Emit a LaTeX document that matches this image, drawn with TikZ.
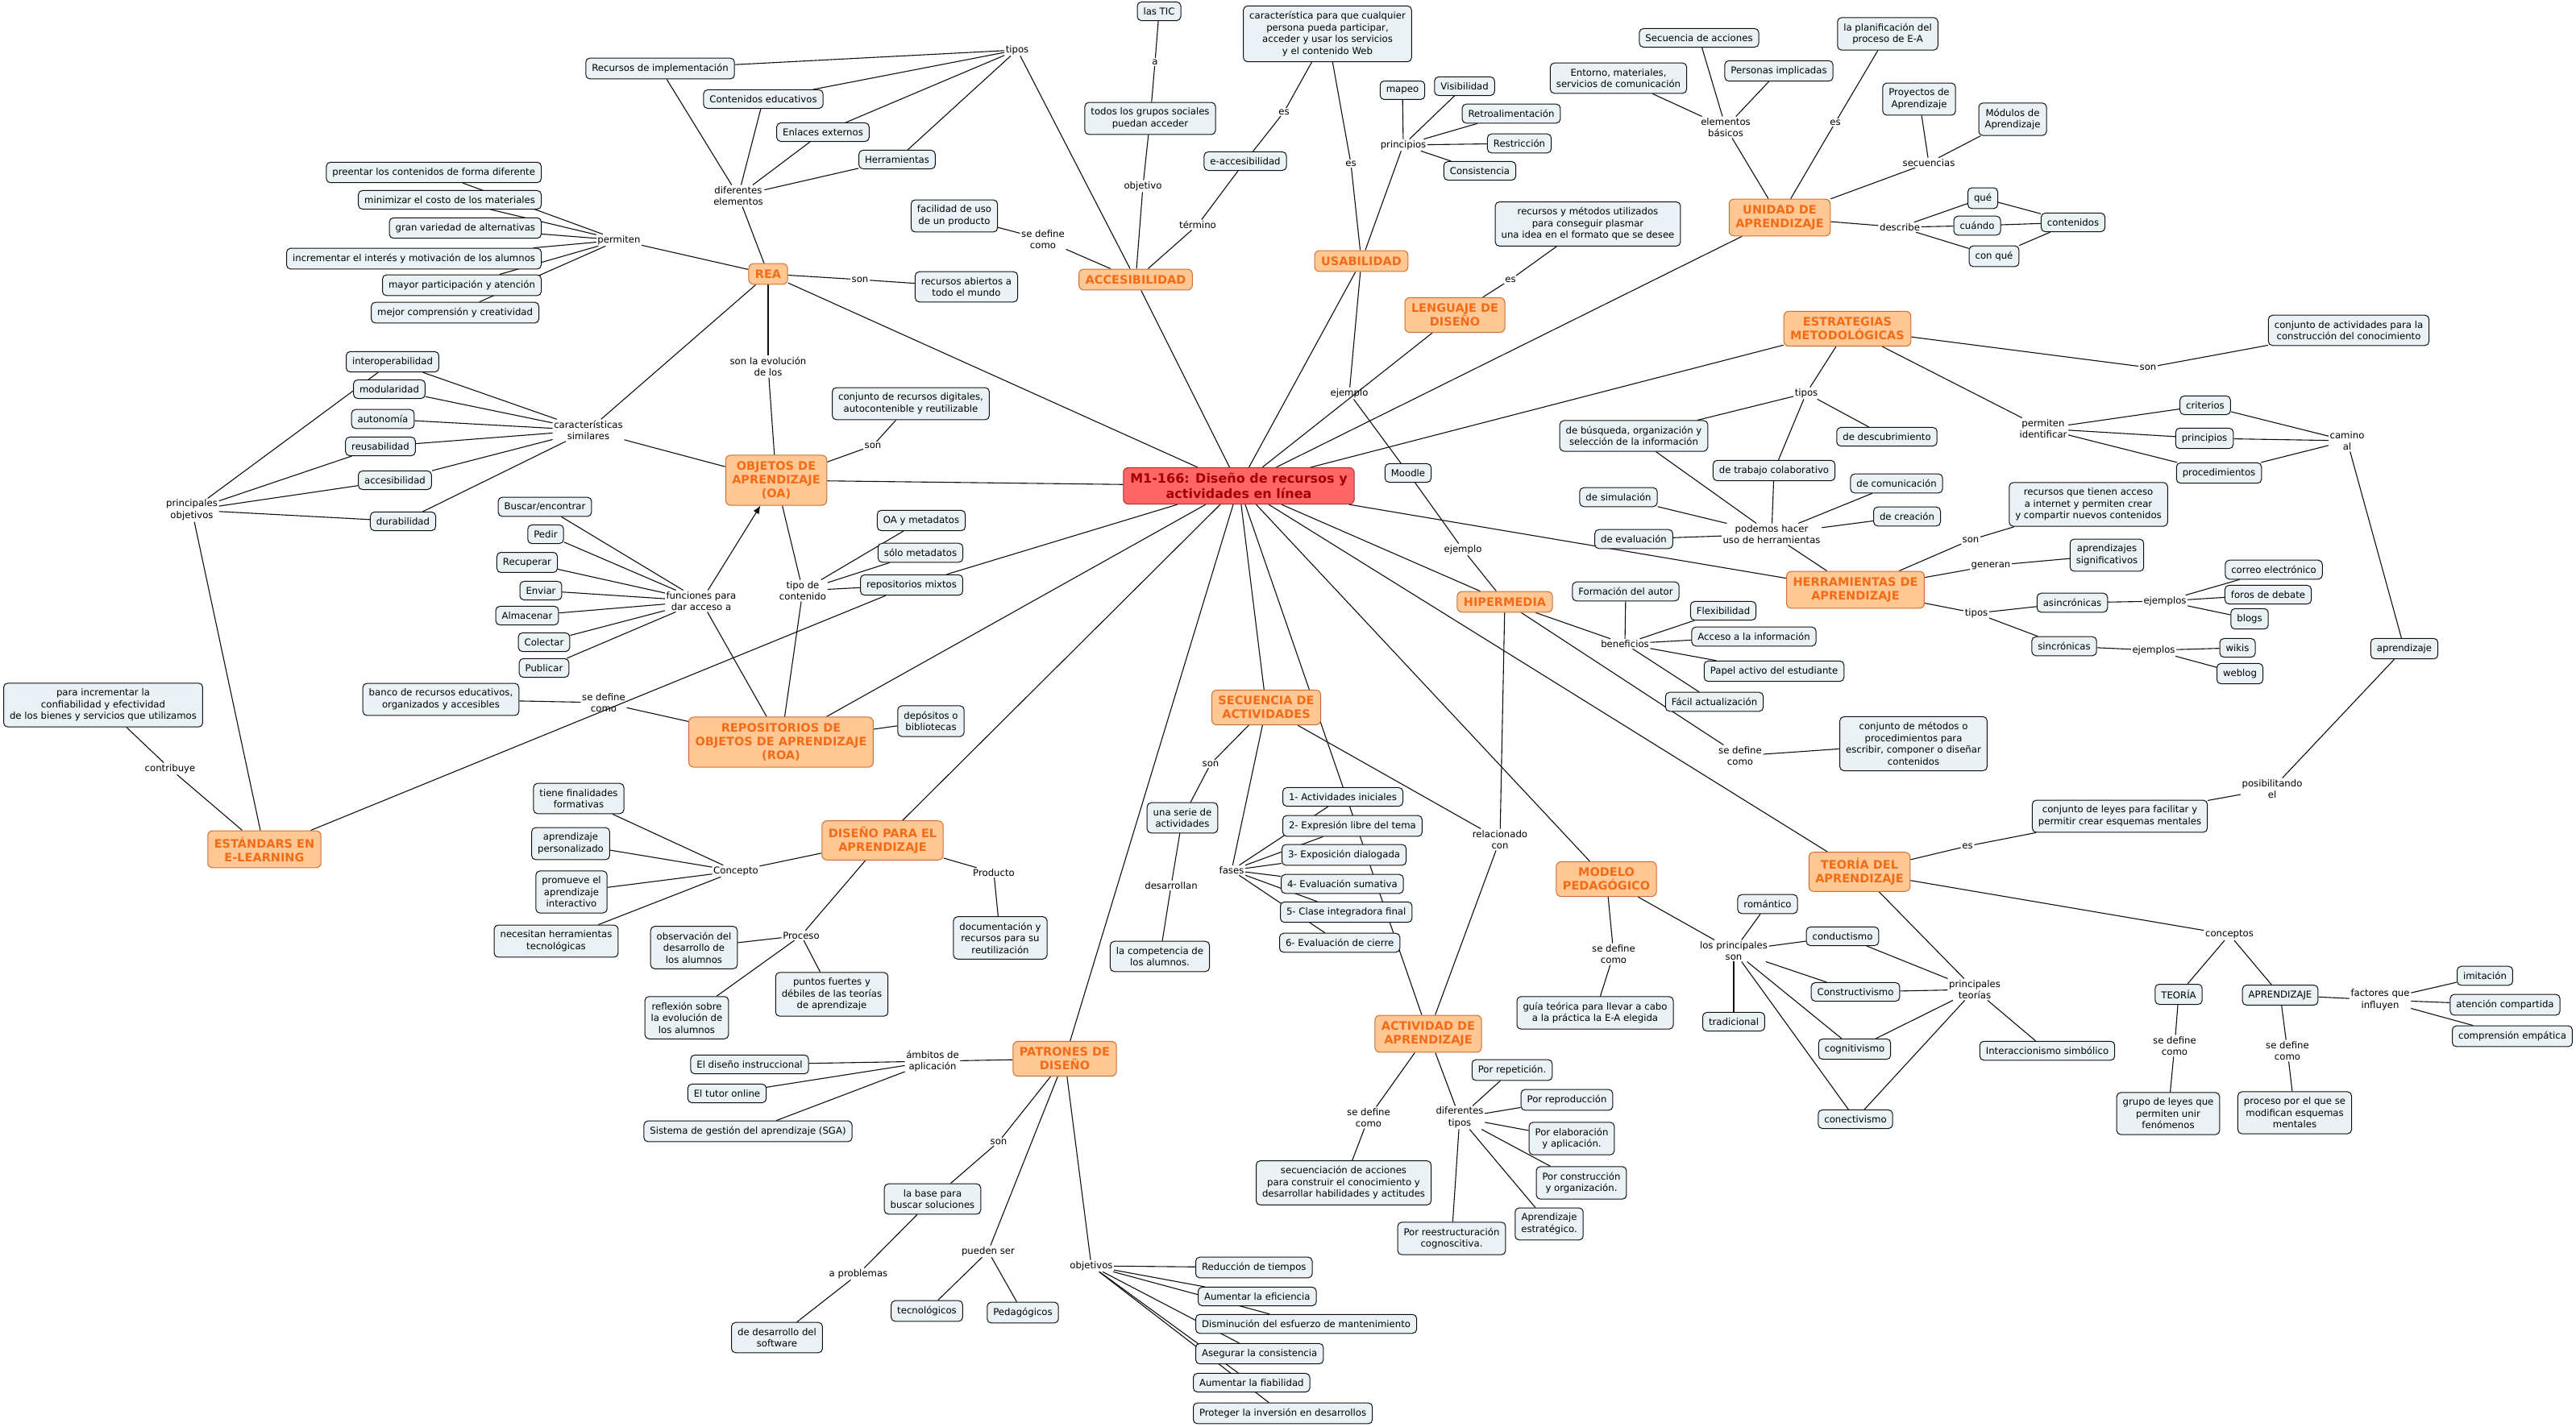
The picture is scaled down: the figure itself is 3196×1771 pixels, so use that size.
\documentclass[tikz,border=0pt]{standalone}
\usepackage{fontspec}
\setmainfont{DejaVu Sans}
\usetikzlibrary{arrows.meta}
\definecolor{cfill}{RGB}{235,242,245}
\definecolor{ofill}{RGB}{255,199,148}
\definecolor{obord}{RGB}{205,110,50}
\definecolor{otext}{RGB}{242,108,24}
\definecolor{rfill}{RGB}{255,102,102}
\definecolor{rbord}{RGB}{175,45,45}
\definecolor{rtext}{RGB}{165,0,0}
\definecolor{lncol}{RGB}{15,15,15}
\newcommand\nfnt{\fontsize{11.7}{14.5}\selectfont}
\newcommand\ofnt{\fontsize{14.5}{17.2}\selectfont\bfseries}
\newcommand\tfnt{\fontsize{16}{19.5}\selectfont\bfseries}
\pgfdeclarelayer{back}
\pgfdeclarelayer{bg}
\pgfsetlayers{back,bg,main}
\tikzset{
  cb/.style={draw=lncol, fill=cfill, rounded corners=5pt, align=center, font=\nfnt, inner xsep=7.5pt, inner ysep=7pt, line width=1pt},
  oc/.style={draw=obord, fill=ofill, text=otext, rounded corners=6pt, align=center, font=\ofnt, inner xsep=8pt, inner ysep=7.5pt, line width=1pt},
  cen/.style={draw=rbord, fill=rfill, text=rtext, rounded corners=6pt, align=center, font=\tfnt, inner xsep=8.5pt, inner ysep=6.5pt, line width=1pt},
  lp/.style={align=center, font=\nfnt, inner sep=1.5pt},
  ln/.style={draw=lncol, line width=1.1pt}
}
\begin{document}
\begin{tikzpicture}[x=1pt,y=-1pt]
\begin{pgfonlayer}{back}
\fill[white] (0,0) rectangle (3196,1771);
\end{pgfonlayer}
\useasboundingbox (0,0) rectangle (3196,1771);

% central
\node[cen] (c) at (1537,603) {M1-166: Diseño de recursos y\\actividades en línea};

% main concepts
\node[oc] (rea) at (953,340) {REA};
\node[oc] (acc) at (1409,347) {ACCESIBILIDAD};
\node[oc] (usa) at (1689,324) {USABILIDAD};
\node[oc] (len) at (1805,391) {LENGUAJE DE\\DISEÑO};
\node[oc] (uni) at (2208,270) {UNIDAD DE\\APRENDIZAJE};
\node[oc] (est) at (2292,408) {ESTRATEGIAS\\METODOLÓGICAS};
\node[oc] (oa) at (963,596) {OBJETOS DE\\APRENDIZAJE\\(OA)};
\node[oc] (roa) at (969,921) {REPOSITORIOS DE\\OBJETOS DE APRENDIZAJE\\(ROA)};
\node[oc] (std) at (328,1054) {ESTÁNDARS EN\\E-LEARNING};
\node[oc] (dis) at (1095,1043) {DISEÑO PARA EL\\APRENDIZAJE};
\node[oc] (pat) at (1321,1314) {PATRONES DE\\DISEÑO};
\node[oc] (sec) at (1571,878) {SECUENCIA DE\\ACTIVIDADES};
\node[oc] (hip) at (1867,747) {HIPERMEDIA};
\node[oc] (her) at (2302,732) {HERRAMIENTAS DE\\APRENDIZAJE};
\node[oc] (mod) at (1993,1091) {MODELO\\PEDAGÓGICO};
\node[oc] (act) at (1772,1283) {ACTIVIDAD DE\\APRENDIZAJE};
\node[oc] (teo) at (2307,1082) {TEORÍA DEL\\APRENDIZAJE};

% REA / ACCESIBILIDAD cluster
\node[cb] (rimp) at (819,85) {Recursos de implementación};
\node[cb] (cedu) at (947,123) {Contenidos educativos};
\node[cb] (enl) at (1021,164) {Enlaces externos};
\node[cb] (herr) at (1113,198) {Herramientas};
\node[cb] (rab) at (1199,356) {recursos abiertos a\\todo el mundo};
\node[cb] (fac) at (1184,268) {facilidad de uso\\de un producto};
\node[cb] (tic) at (1438,14) {las TIC};
\node[cb] (tgs) at (1427,147) {todos los grupos sociales\\puedan acceder};
\node[cb] (eacc) at (1545,200) {e-accesibilidad};
\node[cb] (carw) at (1647,42) {característica para que cualquier\\persona pueda participar,\\acceder y usar los servicios\\y el contenido Web};
\node[cb] (crd) at (1130,501) {conjunto de recursos digitales,\\autocontenible y reutilizable};

\node[cb,anchor=east] (p1) at (672,214) {preentar los contenidos de forma diferente};
\node[cb,anchor=east] (p2) at (672,248) {minimizar el costo de los materiales};
\node[cb,anchor=east] (p3) at (672,283) {gran variedad de alternativas};
\node[cb,anchor=east] (p4) at (672,321) {incrementar el interés y motivación de los alumnos};
\node[cb,anchor=east] (p5) at (672,354) {mayor participación y atención};
\node[cb,anchor=east] (p6) at (669,388) {mejor comprensión y creatividad};

\node[cb] (k1) at (487,449) {interoperabilidad};
\node[cb] (k2) at (483,483) {modularidad};
\node[cb] (k3) at (475,520) {autonomía};
\node[cb] (k4) at (472,554) {reusabilidad};
\node[cb] (k5) at (490,596) {accesibilidad};
\node[cb] (k6) at (500,647) {durabilidad};

\node[cb] (f1) at (676,629) {Buscar/encontrar};
\node[cb] (f2) at (677,663) {Pedir};
\node[cb] (f3) at (654,698) {Recuperar};
\node[cb] (f4) at (671,733) {Enviar};
\node[cb] (f5) at (654,764) {Almacenar};
\node[cb] (f6) at (675,797) {Colectar};
\node[cb] (f7) at (675,829) {Publicar};

\node[cb] (oam) at (1143,646) {OA y metadatos};
\node[cb] (som) at (1142,686) {sólo metadatos};
\node[cb] (rmx) at (1131,726) {repositorios mixtos};
\node[cb] (dep) at (1155,895) {depósitos o\\bibliotecas};
\node[cb] (ban) at (547,868) {banco de recursos educativos,\\organizados y accesibles};
\node[cb] (inc) at (128,875) {para incrementar la\\confiabilidad y efectividad\\de los bienes y servicios que utilizamos};

% DISEÑO PARA EL APRENDIZAJE
\node[cb] (d1) at (718,991) {tiene finalidades\\formativas};
\node[cb] (d2) at (708,1047) {aprendizaje\\personalizado};
\node[cb] (d3) at (709,1107) {promueve el\\aprendizaje\\interactivo};
\node[cb] (d4) at (690,1168) {necesitan herramientas\\tecnológicas};
\node[cb] (doc) at (1241,1164) {documentación y\\recursos para su\\reutilización};
\node[cb] (obs) at (861,1176) {observación del\\desarrollo de\\los alumnos};
\node[cb] (ref) at (852,1263) {reflexión sobre\\la evolución de\\los alumnos};
\node[cb] (pfu) at (1032,1234) {puntos fuertes y\\débiles de las teorías\\de aprendizaje};

% PATRONES
\node[cb] (a1) at (930,1321) {El diseño instruccional};
\node[cb] (a2) at (902,1357) {El tutor online};
\node[cb] (a3) at (928,1404) {Sistema de gestión del aprendizaje (SGA)};
\node[cb] (bas) at (1157,1488) {la base para\\buscar soluciones};
\node[cb] (dsw) at (964,1660) {de desarrollo del\\software};
\node[cb] (tec) at (1150,1627) {tecnológicos};
\node[cb] (ped) at (1269,1629) {Pedagógicos};
\node[cb,anchor=west] (o1) at (1483,1573) {Reducción de tiempos};
\node[cb,anchor=west] (o2) at (1486,1609) {Aumentar la eficiencia};
\node[cb,anchor=west] (o3) at (1483,1643) {Disminución del esfuerzo de mantenimiento};
\node[cb,anchor=west] (o4) at (1483,1680) {Asegurar la consistencia};
\node[cb,anchor=west] (o5) at (1480,1716) {Aumentar la fiabilidad};
\node[cb,anchor=west] (o6) at (1480,1754) {Proteger la inversión en desarrollos};

% SECUENCIA
\node[cb] (ser) at (1467,1015) {una serie de\\actividades};
\node[cb] (com) at (1439,1187) {la competencia de\\los alumnos.};
\node[cb,anchor=west] (ph1) at (1591,989) {1- Actividades iniciales};
\node[cb,anchor=west] (ph2) at (1591,1025) {2- Expresión libre del tema};
\node[cb,anchor=west] (ph3) at (1590,1061) {3- Exposición dialogada};
\node[cb,anchor=west] (ph4) at (1589,1097) {4- Evaluación sumativa};
\node[cb,anchor=west] (ph5) at (1588,1132) {5- Clase integradora final};
\node[cb,anchor=west] (ph6) at (1587,1170) {6- Evaluación de cierre};

% HIPERMEDIA
\node[cb] (moo) at (1747,587) {Moodle};
\node[cb] (fau) at (2017,734) {Formación del autor};
\node[cb] (b1) at (2138,758) {Flexibilidad};
\node[cb] (b2) at (2176,790) {Acceso a la información};
\node[cb] (b3) at (2201,833) {Papel activo del estudiante};
\node[cb] (b4) at (2127,871) {Fácil actualización};
\node[cb] (cmp) at (2374,923) {conjunto de métodos o\\procedimientos para\\escribir, componer o diseñar\\contenidos};

% USABILIDAD
\node[cb] (u1) at (1740,112) {mapeo};
\node[cb] (u2) at (1817,107) {Visibilidad};
\node[cb] (u3) at (1875,141) {Retroalimentación};
\node[cb] (u4) at (1885,178) {Restricción};
\node[cb] (u5) at (1836,212) {Consistencia};
\node[cb] (rmu) at (1970,278) {recursos y métodos utilizados\\para conseguir plasmar\\una idea en el formato que se desee};

% UNIDAD
\node[cb] (sac) at (2108,47) {Secuencia de acciones};
\node[cb] (ent) at (2008,97) {Entorno, materiales,\\servicios de comunicación};
\node[cb] (pim) at (2207,88) {Personas implicadas};
\node[cb] (pla) at (2342,42) {la planificación del\\proceso de E-A};
\node[cb] (pro) at (2381,123) {Proyectos de\\Aprendizaje};
\node[cb] (mdl) at (2497,148) {Módulos de\\Aprendizaje};
\node[cb] (que) at (2460,246) {qué};
\node[cb] (cua) at (2453,280) {cuándo};
\node[cb] (cq) at (2474,318) {con qué};
\node[cb] (cont) at (2572,276) {contenidos};

% ESTRATEGIAS
\node[cb] (cac) at (2914,410) {conjunto de actividades para la\\construcción del conocimiento};
\node[cb] (bus) at (2027,541) {de búsqueda, organización y\\selección de la información};
\node[cb] (des) at (2341,542) {de descubrimiento};
\node[cb] (col) at (2201,584) {de trabajo colaborativo};
\node[cb] (cri) at (2736,503) {criterios};
\node[cb] (pri) at (2735,544) {principios};
\node[cb] (prc) at (2753,587) {procedimientos};
\node[cb] (apr) at (2983,805) {aprendizaje};
\node[cb] (cly) at (2630,1013) {conjunto de leyes para facilitar y\\permitir crear esquemas mentales};

% HERRAMIENTAS
\node[cb] (sim) at (2008,617) {de simulación};
\node[cb] (eva) at (2027,669) {de evaluación};
\node[cb] (hcom) at (2353,600) {de comunicación};
\node[cb] (cre) at (2366,641) {de creación};
\node[cb] (rqt) at (2591,626) {recursos que tienen acceso\\a internet y permiten crear\\y compartir nuevos contenidos};
\node[cb] (asi) at (2614,689) {aprendizajes\\significativos};
\node[cb] (asn) at (2571,748) {asincrónicas};
\node[cb] (sin) at (2561,802) {sincrónicas};
\node[cb] (e1) at (2821,707) {correo electrónico};
\node[cb] (e2) at (2814,738) {foros de debate};
\node[cb] (e3) at (2791,768) {blogs};
\node[cb] (w1) at (2776,804) {wikis};
\node[cb] (w2) at (2779,836) {weblog};

% TEORIA
\node[cb] (teor) at (2703,1234) {TEORÍA};
\node[cb] (aprz) at (2829,1235) {APRENDIZAJE};
\node[cb] (gru) at (2690,1382) {grupo de leyes que\\permiten unir\\fenómenos};
\node[cb] (pme) at (2847,1381) {proceso por el que se\\modifican esquemas\\mentales};
\node[cb] (fi1) at (3083,1211) {imitación};
\node[cb] (fi2) at (3108,1247) {atención compartida};
\node[cb] (fi3) at (3117,1286) {comprensión empática};
\node[cb] (cdt) at (2286,1162) {conductismo};
\node[cb] (rom) at (2193,1122) {romántico};
\node[cb] (cns) at (2302,1231) {Constructivismo};
\node[cb] (tra) at (2151,1268) {tradicional};
\node[cb] (cog) at (2301,1302) {cognitivismo};
\node[cb] (cnc) at (2302,1389) {conectivismo};
\node[cb] (isi) at (2540,1304) {Interaccionismo simbólico};

% MODELO / ACTIVIDAD
\node[cb] (gui) at (1979,1257) {guía teórica para llevar a cabo\\a la práctica la E-A elegida};
\node[cb] (sac2) at (1667,1468) {secuenciación de acciones\\para construir el conocimiento y\\desarrollar habilidades y actitudes};
\node[cb] (t1) at (1876,1328) {Por repetición.};
\node[cb] (t2) at (1944,1365) {Por reproducción};
\node[cb] (t3) at (1950,1413) {Por elaboración\\y aplicación.};
\node[cb] (t4) at (1962,1468) {Por construcción\\y organización.};
\node[cb] (t5) at (1922,1519) {Aprendizaje\\estratégico.};
\node[cb] (t6) at (1801,1537) {Por reestructuración\\cognoscitiva.};

% linking phrases
\node[lp] (Ltipos) at (1262,62) {tipos};
\node[lp] (Ldif) at (916,243) {diferentes\\elementos};
\node[lp] (Lson1) at (1067,347) {son};
\node[lp] (Lsdc1) at (1294,297) {se define\\como};
\node[lp] (La) at (1433,77) {a};
\node[lp] (Lobj) at (1418,231) {objetivo};
\node[lp] (Lter) at (1486,279) {término};
\node[lp] (Les1) at (1593,139) {es};
\node[lp] (Levo) at (953,455) {son la evolución\\de los};
\node[lp] (Lson2) at (1083,553) {son};
\node[lp] (Lperm) at (768,298) {permiten};
\node[lp] (Lcar) at (730,534) {características\\similares};
\node[lp] (Lpob) at (238,633) {principales\\objetivos};
\node[lp] (Lfun) at (870,746) {funciones para\\dar acceso a};
\node[lp] (Ltip) at (996,733) {tipo de\\contenido};
\node[lp] (Lsdc2) at (749,872) {se define\\como};
\node[lp] (Lcon) at (211,954) {contribuye};
\node[lp] (Lconc) at (913,1081) {Concepto};
\node[lp] (Lprod) at (1233,1083) {Producto};
\node[lp] (Lproc) at (994,1161) {Proceso};
\node[lp] (Lamb) at (1157,1317) {ámbitos de\\aplicación};
\node[lp] (Lson3) at (1239,1417) {son};
\node[lp] (Lapr) at (1065,1581) {a problemas};
\node[lp] (Lpue) at (1226,1553) {pueden ser};
\node[lp] (Lobjs) at (1354,1571) {objetivos};
\node[lp] (Lson4) at (1502,948) {son};
\node[lp] (Ldesa) at (1453,1099) {desarrollan};
\node[lp] (Lfas) at (1528,1080) {fases};
\node[lp] (Lrel) at (1861,1042) {relacionado\\con};
\node[lp] (Lej1) at (1815,682) {ejemplo};
\node[lp] (Lej2) at (1674,488) {ejemplo};
\node[lp] (Lben) at (2016,799) {beneficios};
\node[lp] (Lsdc3) at (2159,938) {se define\\como};
\node[lp] (Les2) at (1676,203) {es};
\node[lp] (Lprin) at (1741,180) {principios};
\node[lp] (Les3) at (1874,347) {es};
\node[lp] (Leb) at (2141,158) {elementos\\básicos};
\node[lp] (Les4) at (2277,152) {es};
\node[lp] (Lsecs) at (2393,202) {secuencias};
\node[lp] (Ldesc) at (2357,282) {describe};
\node[lp] (Lson5) at (2665,456) {son};
\node[lp] (Ltip2) at (2241,488) {tipos};
\node[lp] (Lpid) at (2535,532) {permiten\\identificar};
\node[lp] (Lcam) at (2912,547) {camino\\al};
\node[lp] (Lpos) at (2819,979) {posibilitando\\el};
\node[lp] (Les5) at (2441,1050) {es};
\node[lp] (Lpod) at (2198,663) {podemos hacer\\uso de herramientas};
\node[lp] (Lson6) at (2445,670) {son};
\node[lp] (Lgen) at (2470,702) {generan};
\node[lp] (Ltip3) at (2452,761) {tipos};
\node[lp] (Lej3) at (2686,746) {ejemplos};
\node[lp] (Lej4) at (2672,807) {ejemplos};
\node[lp] (Lcpt) at (2766,1160) {conceptos};
\node[lp] (Lsdc4) at (2698,1298) {se define\\como};
\node[lp] (Lsdc5) at (2838,1304) {se define\\como};
\node[lp] (Lfq) at (2953,1241) {factores que\\influyen};
\node[lp] (Lpt) at (2450,1228) {principales\\teorías};
\node[lp] (Llps) at (2151,1180) {los principales\\son};
\node[lp] (Lsdc6) at (2002,1184) {se define\\como};
\node[lp] (Lsdc7) at (1698,1387) {se define\\como};
\node[lp] (Ldt) at (1811,1387) {diferentes\\tipos};

\begin{pgfonlayer}{bg}
\foreach \a/\b in {c/rea,c/acc,c/usa,c/len,c/uni,c/est,c/oa,c/roa,c/rmx,c/dis,c/pat,c/sec,c/act,c/hip,c/her,c/teo,c/mod,
 rea/Ldif,Ldif/rimp,Ldif/cedu,Ldif/enl,Ldif/herr,Ltipos/rimp,Ltipos/cedu,Ltipos/enl,Ltipos/herr,Ltipos/acc,
 rea/Lson1,Lson1/rab,rea/Lperm,Lperm/p1,Lperm/p2,Lperm/p3,Lperm/p4,Lperm/p5,Lperm/p6,rea/Lcar,rea/Levo,Levo/oa,
 acc/Lsdc1,Lsdc1/fac,acc/Lobj,Lobj/tgs,tgs/La,La/tic,acc/Lter,Lter/eacc,eacc/Les1,Les1/carw,
 oa/Lson2,Lson2/crd,oa/Lcar,Lcar/k1,Lcar/k2,Lcar/k3,Lcar/k4,Lcar/k5,Lcar/k6,Lpob/k1,Lpob/k4,Lpob/k5,Lpob/k6,Lpob/std,
 Lfun/f1,Lfun/f2,Lfun/f3,Lfun/f4,Lfun/f5,Lfun/f6,Lfun/f7,Lfun/roa,oa/Ltip,Ltip/oam,Ltip/som,Ltip/rmx,Ltip/roa,std/rmx,
 roa/dep,roa/Lsdc2,Lsdc2/ban,std/Lcon,Lcon/inc,
 dis/Lconc,Lconc/d1,Lconc/d2,Lconc/d3,Lconc/d4,dis/Lprod,Lprod/doc,dis/Lproc,Lproc/obs,Lproc/ref,Lproc/pfu,
 pat/Lamb,Lamb/a1,Lamb/a2,Lamb/a3,pat/Lson3,Lson3/bas,bas/Lapr,Lapr/dsw,pat/Lpue,Lpue/tec,Lpue/ped,pat/Lobjs,
 Lobjs/o1,Lobjs/o2,Lobjs/o3,Lobjs/o4,Lobjs/o5,Lobjs/o6,
 sec/Lson4,Lson4/ser,ser/Ldesa,Ldesa/com,sec/Lfas,Lfas/ph1,Lfas/ph2,Lfas/ph3,Lfas/ph4,Lfas/ph5,Lfas/ph6,sec/Lrel,Lrel/hip,Lrel/act,
 hip/Lej1,Lej1/moo,usa/Lej2,Lej2/moo,hip/Lben,Lben/fau,Lben/b1,Lben/b2,Lben/b3,Lben/b4,hip/Lsdc3,Lsdc3/cmp,
 usa/Les2,Les2/carw,usa/Lprin,Lprin/u1,Lprin/u2,Lprin/u3,Lprin/u4,Lprin/u5,len/Les3,Les3/rmu,
 uni/Leb,Leb/sac,Leb/ent,Leb/pim,uni/Les4,Les4/pla,uni/Lsecs,Lsecs/pro,Lsecs/mdl,uni/Ldesc,Ldesc/que,Ldesc/cua,Ldesc/cq,que/cont,cua/cont,cq/cont,
 est/Lson5,Lson5/cac,est/Ltip2,Ltip2/bus,Ltip2/des,Ltip2/col,est/Lpid,Lpid/cri,Lpid/pri,Lpid/prc,cri/Lcam,pri/Lcam,prc/Lcam,Lcam/apr,apr/Lpos,Lpos/cly,cly/Les5,Les5/teo,
 her/Lpod,Lpod/sim,Lpod/eva,Lpod/hcom,Lpod/cre,Lpod/col,Lpod/bus,her/Lson6,Lson6/rqt,her/Lgen,Lgen/asi,her/Ltip3,Ltip3/asn,Ltip3/sin,
 asn/Lej3,Lej3/e1,Lej3/e2,Lej3/e3,sin/Lej4,Lej4/w1,Lej4/w2,
 teo/Lcpt,Lcpt/teor,Lcpt/aprz,teor/Lsdc4,Lsdc4/gru,aprz/Lsdc5,Lsdc5/pme,aprz/Lfq,Lfq/fi1,Lfq/fi2,Lfq/fi3,
 teo/Lpt,Lpt/cdt,Lpt/cns,Lpt/cog,Lpt/cnc,Lpt/isi,
 mod/Lsdc6,Lsdc6/gui,mod/Llps,Llps/rom,Llps/cdt,Llps/cns,Llps/tra,Llps/cog,Llps/cnc,
 act/Lsdc7,Lsdc7/sac2,act/Ldt,Ldt/t1,Ldt/t2,Ldt/t3,Ldt/t4,Ldt/t5,Ldt/t6}
 {\draw[ln] (\a) -- (\b);}
\draw[ln,-{Latex[length=10pt,width=8pt]}] (Lfun) -- (oa);
\end{pgfonlayer}
\end{tikzpicture}
\end{document}
